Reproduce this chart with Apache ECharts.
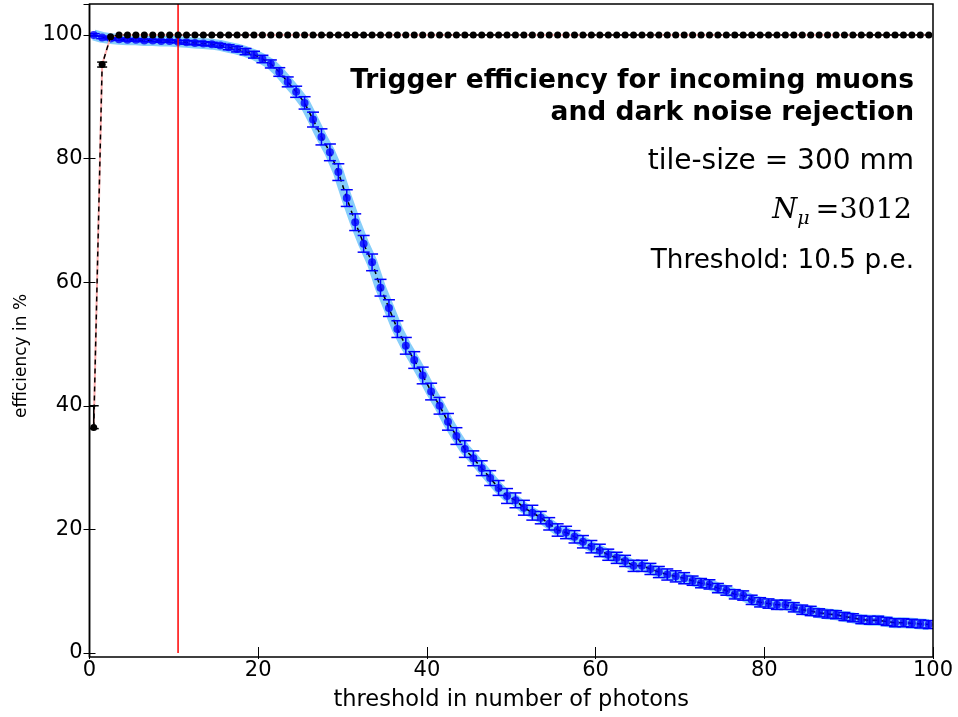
<!DOCTYPE html>
<html>
<head>
<meta charset="utf-8">
<script src="https://cdn.jsdelivr.net/npm/echarts@6/dist/echarts.min.js"></script>
<style>html,body{margin:0;padding:0;background:#fff}#c{width:958px;height:717px}</style>
</head>
<body>
<div id="c"></div>
<script>
// ---- data ----
// bin centres of the threshold scan: 0.5, 1.5, ..., 99.5 photons (value i sits at i + 0.5)
const binOffset = 0.5;
// muon trigger efficiency (%) per threshold bin
const muonEff = [
 100.0, 99.6, 99.4, 99.3, 99.2, 99.2, 99.1, 99.1, 99.0, 99.0,
 98.9, 98.8, 98.7, 98.6, 98.5, 98.3, 98.0, 97.7, 97.3, 96.8,
 96.1, 95.3, 94.0, 92.4, 90.8, 89.0, 86.3, 83.5, 81.0, 77.8,
 73.6, 69.7, 66.2, 63.2, 59.1, 55.8, 52.4, 49.7, 47.4, 44.9,
 42.3, 40.0, 37.4, 35.1, 33.0, 31.5, 29.9, 28.3, 26.7, 25.4,
 24.7, 23.5, 22.7, 21.9, 20.9, 19.9, 19.5, 18.8, 18.0, 17.2,
 16.6, 15.9, 15.4, 14.9, 14.1, 14.1, 13.6, 13.1, 12.7, 12.4,
 12.1, 11.7, 11.3, 11.1, 10.5, 10.1, 9.5, 9.3, 8.6, 8.2,
 8.0, 7.8, 7.8, 7.4, 7.0, 6.8, 6.5, 6.3, 6.2, 5.9,
 5.7, 5.4, 5.3, 5.3, 5.1, 4.9, 4.9, 4.8, 4.7, 4.6
];
// half-height of the muon error bars (%)
const muonErr = [
 0.2, 0.2, 0.2, 0.2, 0.2, 0.2, 0.2, 0.2, 0.2, 0.2,
 0.2, 0.3, 0.3, 0.3, 0.3, 0.3, 0.4, 0.45, 0.5, 0.55,
 0.6, 0.65, 0.7, 0.8, 0.9, 1.0, 1.2, 1.3, 1.35, 1.35,
 1.35, 1.35, 1.35, 1.35, 1.35, 1.35, 1.35, 1.35, 1.35, 1.35,
 1.35, 1.35, 1.35, 1.35, 1.35, 1.2, 1.2, 1.2, 1.2, 1.2,
 1.2, 1.2, 1.2, 1.0, 1.0, 1.0, 1.0, 1.0, 1.0, 1.0,
 1.0, 0.9, 0.9, 0.9, 0.9, 0.9, 0.9, 0.9, 0.9, 0.9,
 0.9, 0.75, 0.75, 0.75, 0.75, 0.75, 0.75, 0.75, 0.75, 0.75,
 0.75, 0.75, 0.75, 0.75, 0.75, 0.75, 0.65, 0.65, 0.65, 0.65,
 0.65, 0.65, 0.65, 0.65, 0.65, 0.65, 0.65, 0.65, 0.65, 0.65
];
// dark noise rejection (%) per threshold bin
const noiseRej = [36.5, 95.2, 99.7].concat(new Array(97).fill(100.0));
// dark-noise error bars [bin index, low, high]
const noiseErr = [[0, 36.3, 40.0], [1, 94.8, 95.6]];
const thresholdLine = 10.5;
const yTicks = [0, 20, 40, 60, 80, 100];

const titleLines = ['Trigger efficiency for incoming muons', 'and dark noise rejection'];
const tileText = 'tile-size = 300 mm';
const nMu = '3012';
const thrText = 'Threshold: 10.5 p.e.';

// ---- build ----
const muonPts = muonEff.map((v, i) => [i + binOffset, v]);
const muonBars = muonEff.map((v, i) => [i + binOffset, v - muonErr[i], v + muonErr[i]]);
const noisePts = noiseRej.map((v, i) => [i + binOffset, v]);
const noiseBars = noiseErr.map(d => [d[0] + binOffset, d[1], d[2]]);

function errRender(color, cap) {
  return function (params, api) {
    const cs = params.coordSys;
    const clampX = v => Math.max(cs.x, Math.min(cs.x + cs.width, v));
    const x = api.value(0), lo = api.value(1), hi = api.value(2);
    const a = api.coord([x, lo]), b = api.coord([x, hi]);
    const st = { stroke: color, lineWidth: 1.5 };
    return { type: 'group', children: [
      { type: 'line', shape: { x1: a[0], y1: a[1], x2: b[0], y2: b[1] }, style: st },
      { type: 'line', shape: { x1: clampX(a[0] - cap), y1: a[1], x2: clampX(a[0] + cap), y2: a[1] }, style: st },
      { type: 'line', shape: { x1: clampX(b[0] - cap), y1: b[1], x2: clampX(b[0] + cap), y2: b[1] }, style: st }
    ]};
  };
}

const FONT = 'DejaVu Sans';
const GL = 89.5, GT = 4, GW = 843.5, GH = 653;
const chart = echarts.init(document.getElementById('c'), null, { renderer: 'canvas' });
const axisCommon = {
  type: 'value', splitLine: { show: false },
  axisLine: { show: false },
  axisTick: { show: true, inside: true, length: 6, lineStyle: { color: '#000', width: 1 } }
};
chart.setOption({
  animation: false,
  backgroundColor: '#fff',
  grid: { left: GL, top: GT, width: GW, height: GH, show: false },
  xAxis: [
    Object.assign({}, axisCommon, {
      min: 0, max: 100, interval: 20, position: 'bottom',
      axisLabel: { color: '#000', fontFamily: FONT, fontSize: 21, margin: 7 },
      name: 'threshold in number of photons', nameLocation: 'middle', nameGap: 36,
      nameTextStyle: { color: '#000', fontFamily: FONT, fontSize: 22.5 }
    }),
    Object.assign({}, axisCommon, {
      min: 0, max: 100, interval: 20, position: 'top', axisLabel: { show: false }
    })
  ],
  yAxis: [
    Object.assign({}, axisCommon, {
      min: 0, max: 105, interval: 20, position: 'left',
      axisLabel: { color: '#000', fontFamily: FONT, fontSize: 21, margin: 7, showMaxLabel: false,
        formatter: v => (yTicks.indexOf(v) >= 0 ? String(v) : '') }
    }),
    Object.assign({}, axisCommon, {
      min: 0, max: 105, interval: 20, position: 'right', axisLabel: { show: false }
    })
  ],
  series: [
    { type: 'line', data: muonPts, symbol: 'none', z: 1,
      lineStyle: { color: '#87cefa', width: 11, cap: 'butt', join: 'round' } },
    { type: 'line', data: muonPts, symbol: 'none', z: 2,
      lineStyle: { color: '#000', width: 1.5, type: [5, 4] } },
    { type: 'custom', data: muonBars, renderItem: errRender('#0000ff', 6), z: 3, clip: true },
    { type: 'scatter', data: muonPts, symbol: 'circle', symbolSize: 8, z: 4,
      itemStyle: { color: '#0000ff' } },
    { type: 'line', data: [[thresholdLine, 0], [thresholdLine, 105]], symbol: 'none', z: 5,
      lineStyle: { color: '#ff0000', width: 1.5 } },
    { type: 'line', data: noisePts, symbol: 'none', z: 6,
      lineStyle: { color: '#ffb0b0', width: 2 } },
    { type: 'line', data: noisePts, symbol: 'circle', symbolSize: 7, showSymbol: true, z: 7,
      itemStyle: { color: '#000' },
      lineStyle: { color: '#000', width: 1.5, type: [5, 4] } },
    { type: 'custom', data: noiseBars, renderItem: errRender('#000', 5), z: 8, clip: true }
  ],
  graphic: [
    { type: 'rect', shape: { x: GL, y: GT, width: GW, height: GH }, silent: true, z: 100,
      style: { fill: 'none', stroke: '#000', lineWidth: 1.5 } },
    { type: 'line', shape: { x1: GL, y1: GT, x2: GL, y2: GT + GH }, silent: true, z: 100,
      style: { stroke: '#000', lineWidth: 1.5 } },
    { type: 'text', x: 22, y: 356, rotation: Math.PI / 2, z: 101, style: { text: 'efficiency in %',
      align: 'center', verticalAlign: 'middle', fontFamily: FONT, fontSize: 17, fill: '#000' } },
    { type: 'text', x: 914, y: 81, z: 101, style: { text: titleLines[0], align: 'right', verticalAlign: 'middle',
      fontFamily: FONT, fontWeight: 'bold', fontSize: 26.5, fill: '#000' } },
    { type: 'text', x: 914, y: 113, z: 101, style: { text: titleLines[1], align: 'right', verticalAlign: 'middle',
      fontFamily: FONT, fontWeight: 'bold', fontSize: 26.5, fill: '#000' } },
    { type: 'text', x: 914, y: 162, z: 101, style: { text: tileText, align: 'right', verticalAlign: 'middle',
      fontFamily: FONT, fontSize: 28, fill: '#000' } },
    { type: 'text', x: 912, y: 211, z: 101, style: {
      text: '{n|N}{mu|μ}{eq|=' + nMu + '}', align: 'right', verticalAlign: 'middle', fill: '#000',
      rich: {
        n: { fontFamily: 'DejaVu Serif', fontStyle: 'italic', fontSize: 28.5, lineHeight: 36, verticalAlign: 'middle' },
        mu: { fontFamily: 'DejaVu Serif', fontStyle: 'italic', fontSize: 19, verticalAlign: 'bottom', padding: [0, 6, 0, 0] },
        eq: { fontFamily: 'DejaVu Serif', fontSize: 28.5, lineHeight: 36, verticalAlign: 'middle' }
      } } },
    { type: 'text', x: 914, y: 261, z: 101, style: { text: thrText, align: 'right', verticalAlign: 'middle',
      fontFamily: FONT, fontSize: 26.3, fill: '#000' } }
  ]
});
</script>
</body>
</html>
